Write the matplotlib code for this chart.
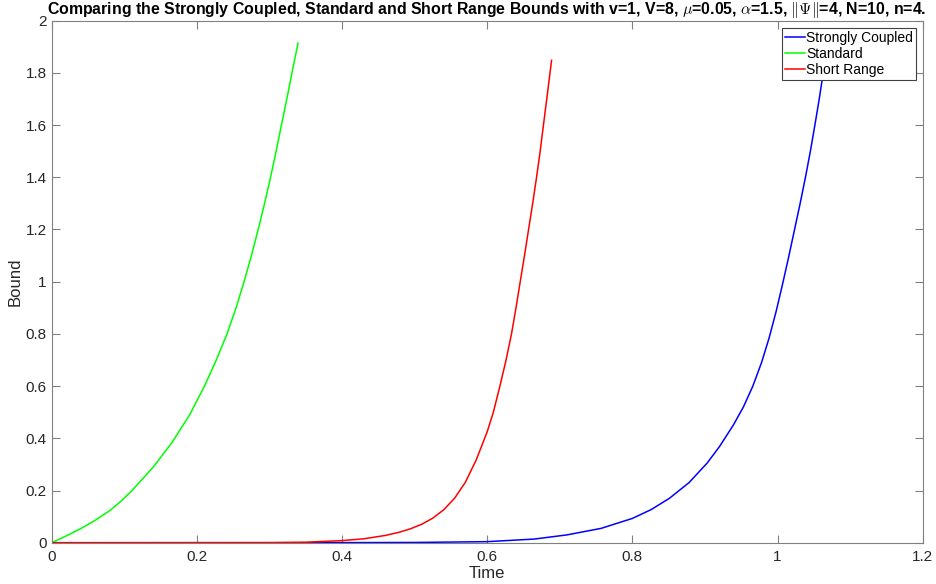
import matplotlib
matplotlib.use('Agg')
import matplotlib.pyplot as plt
from matplotlib.ticker import FuncFormatter

# values
t_strong = [0, 0.35, 0.5, 0.6, 0.665, 0.71, 0.757, 0.8, 0.826, 0.851, 0.878, 0.903,
            0.92, 0.939, 0.953, 0.966, 0.978, 0.9885, 0.998, 1.0065, 1.015, 1.0235,
            1.0312, 1.0385, 1.0453, 1.0515, 1.0575, 1.063, 1.071]
b_strong = [0, 0, 0.001, 0.004, 0.014, 0.03, 0.055, 0.093, 0.127, 0.17, 0.23, 0.305,
            0.368, 0.45, 0.52, 0.6, 0.69, 0.785, 0.885, 0.985, 1.09, 1.2,
            1.3, 1.4, 1.5, 1.6, 1.7, 1.8, 1.95]

t_standard = [0, 0.02, 0.04, 0.06, 0.08, 0.095, 0.11, 0.14, 0.166, 0.19, 0.2105,
              0.2268, 0.2415, 0.254, 0.265, 0.2752, 0.2845, 0.2933, 0.3015, 0.3092,
              0.3165, 0.3239, 0.331, 0.3394]
b_standard = [0, 0.026, 0.054, 0.086, 0.123, 0.158, 0.198, 0.29, 0.385, 0.49, 0.6,
              0.7, 0.8, 0.9, 1.0, 1.1, 1.2, 1.3, 1.4, 1.5,
              1.6, 1.7, 1.8, 1.914]

t_short = [0, 0.3, 0.35, 0.4, 0.43, 0.46, 0.48, 0.495, 0.51, 0.525, 0.54, 0.555,
           0.57, 0.585, 0.6, 0.6085, 0.6175, 0.626, 0.6335, 0.6397, 0.6455, 0.6514,
           0.657, 0.6627, 0.668, 0.673, 0.6775, 0.683, 0.6887]
b_short = [0, 0.0005, 0.002, 0.008, 0.015, 0.028, 0.041, 0.054, 0.071, 0.094, 0.126, 0.17,
           0.232, 0.318, 0.425, 0.5, 0.6, 0.7, 0.8, 0.9, 1.0, 1.1,
           1.2, 1.3, 1.4, 1.5, 1.6, 1.72, 1.848]

x_ticks = [0, 0.2, 0.4, 0.6, 0.8, 1, 1.2]
y_ticks = [0, 0.2, 0.4, 0.6, 0.8, 1, 1.2, 1.4, 1.6, 1.8, 2]

plt.rcParams['font.family'] = ['Liberation Sans', 'DejaVu Sans']
plt.rcParams['mathtext.fontset'] = 'cm'

fig = plt.figure(figsize=(9.37, 5.84), dpi=100)
ax = fig.add_axes([0.0552, 0.0707, 0.9295, 0.8939])

ax.plot(t_strong, b_strong, color=(0, 0, 1), lw=1.1, label='Strongly Coupled')
ax.plot(t_standard, b_standard, color=(0, 1, 0), lw=1.1, label='Standard')
ax.plot(t_short, b_short, color=(1, 0, 0), lw=1.1, label='Short Range')

ax.set_xlim(0, 1.2)
ax.set_ylim(0, 2)
ax.set_xticks(x_ticks)
ax.set_yticks(y_ticks)
fmt = FuncFormatter(lambda v, p: '%g' % round(v, 2))
ax.xaxis.set_major_formatter(fmt)
ax.yaxis.set_major_formatter(fmt)

axis_col = '#808080'
for s in ax.spines.values():
    s.set_color(axis_col)
    s.set_linewidth(0.8)
ax.tick_params(direction='in', length=6, width=0.8, color=axis_col,
               labelcolor='#262626', labelsize=11, top=True, right=True)
ax.tick_params(axis='x', pad=5)

ax.set_xlabel('Time', fontsize=12, color='#262626', labelpad=2)
ax.set_ylabel('Bound', fontsize=12, color='#262626', labelpad=2)

# title placed by hand so the tall \| glyphs stay inside the figure
fig.text(0.5198, 1 - 14 / 584,
         r'Comparing the Strongly Coupled, Standard and Short Range Bounds with v=1, V=8, '
         r'$\mu$=0.05, $\alpha$=1.5, $\|\Psi\|$=4, N=10, n=4.',
         fontsize=11.4, fontweight='bold', color='black', ha='center', va='baseline')

leg = ax.legend(loc='upper right', bbox_to_anchor=(0.992, 0.9854), fontsize=10,
                frameon=True, fancybox=False, framealpha=1, edgecolor='#404040',
                borderpad=0.2, handlelength=1.45, handletextpad=0.1,
                labelspacing=0.15, borderaxespad=0)
leg.get_frame().set_linewidth(0.8)

fig.savefig('out.png', dpi=100)
